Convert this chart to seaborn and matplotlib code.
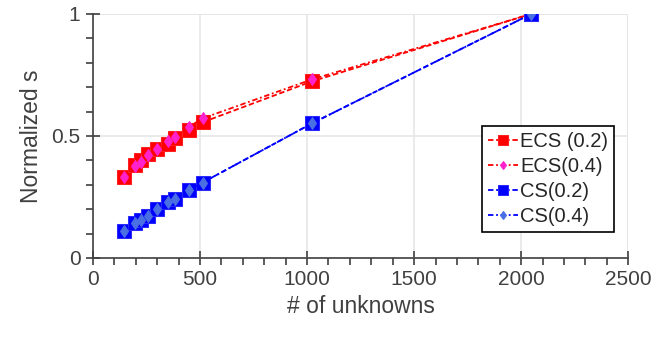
import matplotlib
matplotlib.use("Agg")
import matplotlib.pyplot as plt
import seaborn as sns
import numpy as np
from matplotlib.ticker import MultipleLocator, FuncFormatter

unknowns = [144, 196, 225, 256, 300, 350, 384, 450, 512, 1024, 2048]
ecs_02 = [0.331, 0.381, 0.402, 0.426, 0.445, 0.467, 0.490, 0.525, 0.556, 0.724, 1.0]
ecs_04 = [0.331, 0.378, 0.392, 0.422, 0.448, 0.480, 0.497, 0.538, 0.572, 0.732, 1.0]
cs_02 = [0.112, 0.142, 0.156, 0.173, 0.200, 0.228, 0.243, 0.279, 0.309, 0.552, 1.0]
cs_04 = [0.112, 0.142, 0.156, 0.173, 0.200, 0.228, 0.243, 0.279, 0.309, 0.552, 1.0]
labels = ["ECS (0.2)", "ECS(0.4)", "CS(0.2)", "CS(0.4)"]

sns.set_style("white")
plt.rcParams['font.family'] = ['Liberation Sans', 'DejaVu Sans']
txt = '#404040'

fig = plt.figure(figsize=(6.69, 3.39), dpi=100)
ax = fig.add_axes([0.139, 0.239, 0.8, 0.72])

dash = (3, 1.5)
dashdot = (3, 1.5, 1, 1.5)
series = [
    (ecs_02, dict(color='#ff0000', marker='s', dashes=dash, markersize=10,
                  markerfacecolor='#ff0000', markeredgecolor='#ff2020')),
    (ecs_04, dict(color='#ff0000', marker='d', dashes=dashdot, markersize=6.5,
                  markerfacecolor='#ff22cc', markeredgecolor='#ff22cc')),
    (cs_02, dict(color='#0000ff', marker='s', dashes=dash, markersize=10,
                 markerfacecolor='#0000ff', markeredgecolor='#2a2aff')),
    (cs_04, dict(color='#0000ff', marker='d', dashes=dashdot, markersize=6.5,
                 markerfacecolor='#4a6fe3', markeredgecolor='#4a6fe3')),
]
for (vals, kw), lab in zip(series, labels):
    sns.lineplot(x=unknowns, y=vals, ax=ax, label=lab, linewidth=1.3, **kw)

ax.set_xlim(0, 2500)
ax.set_ylim(0, 1)
ax.xaxis.set_major_locator(MultipleLocator(500))
ax.xaxis.set_minor_locator(MultipleLocator(100))
ax.yaxis.set_major_locator(MultipleLocator(0.5))
ax.yaxis.set_minor_locator(MultipleLocator(0.1))
ax.yaxis.set_major_formatter(FuncFormatter(lambda v, p: '%g' % v))

ax.grid(True, which='major', color='#e6e6e6', linewidth=1.2)
ax.set_axisbelow(True)
for s in ['top', 'right']:
    ax.spines[s].set_visible(False)
for s in ['left', 'bottom']:
    ax.spines[s].set_color('#404040')
    ax.spines[s].set_linewidth(1.2)
ax.tick_params(which='both', bottom=True, left=True, top=False, right=False)
ax.tick_params(which='major', direction='inout', length=10, width=1.2, color='#404040',
               labelsize=15, labelcolor=txt, pad=4)
ax.tick_params(which='minor', direction='out', length=5, width=1.2, color='#404040')
ax.axhline(1, color='#e6e6e6', linewidth=1.2, zorder=0)
ax.axvline(2500, color='#e6e6e6', linewidth=1.2, zorder=0)

ax.set_xlabel('# of unknowns', fontsize=16.5, color=txt, labelpad=4)
ax.set_ylabel('Normalized s', fontsize=16.5, color=txt, labelpad=6)

leg = ax.legend(loc='lower right', bbox_to_anchor=(0.974, 0.107), fontsize=14.5,
                frameon=True, fancybox=False, edgecolor='black', framealpha=1,
                handlelength=1.5, handletextpad=0.1, borderpad=0.3,
                labelspacing=0.3, borderaxespad=0, markerscale=0.7)
leg.get_frame().set_linewidth(1.2)

fig.savefig('out.png', dpi=100)
